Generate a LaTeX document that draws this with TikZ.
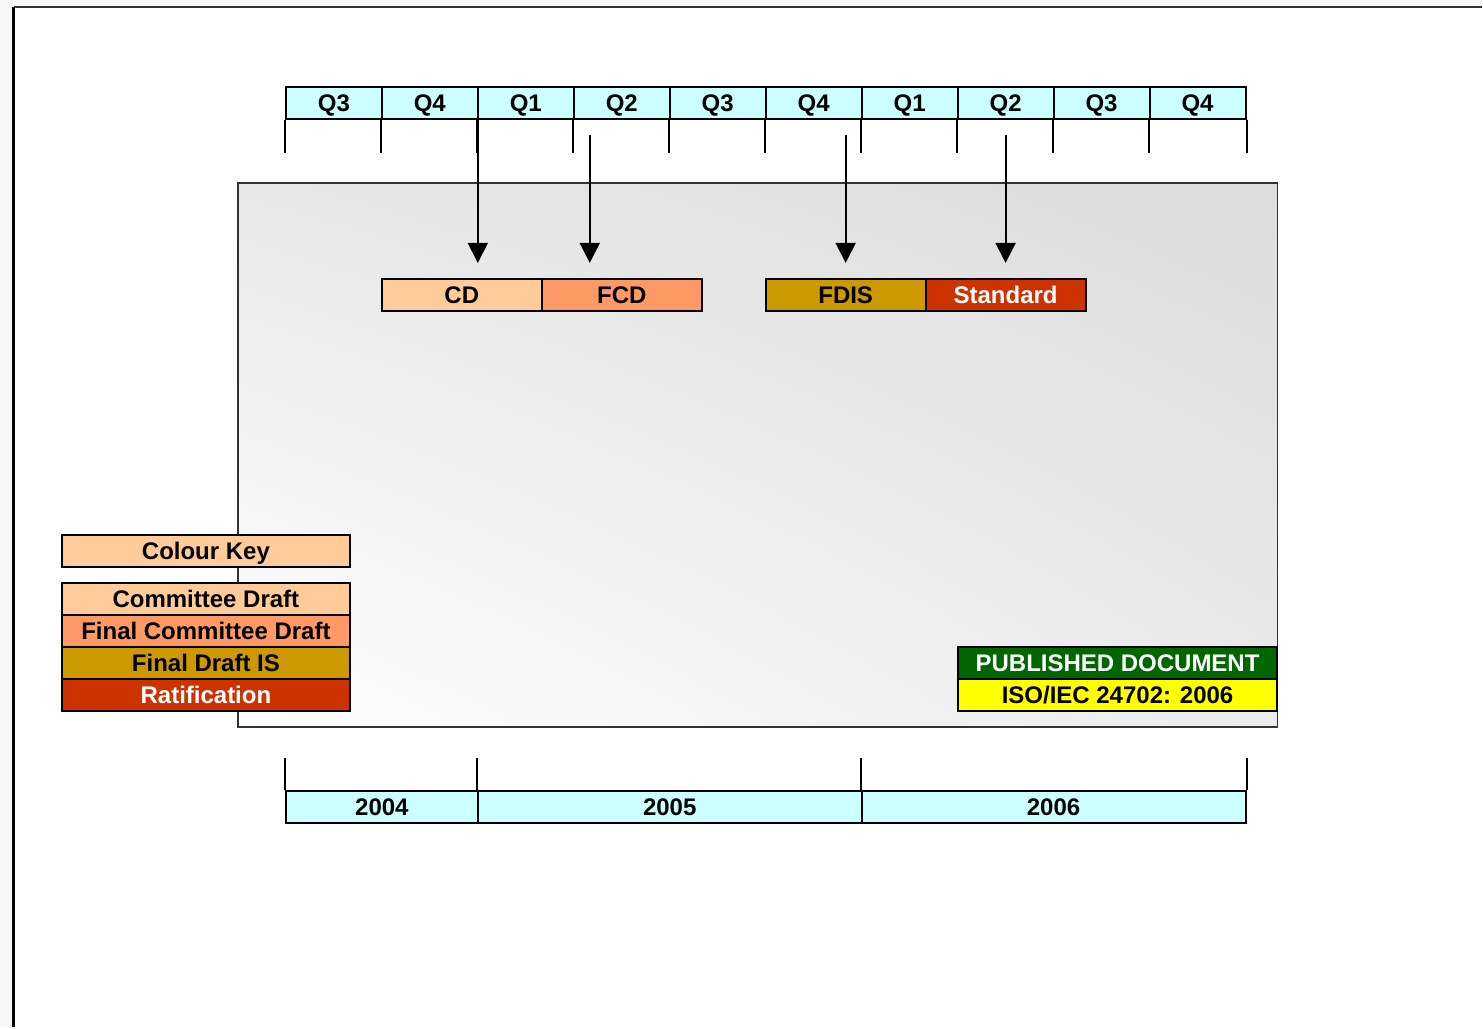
\documentclass[tikz,border=0pt]{standalone}
\usepackage{fontspec}
\setmainfont{Liberation Sans}
\usetikzlibrary{arrows.meta,shadings}
\definecolor{cyanc}{HTML}{CCFFFF}
\definecolor{cdc}{HTML}{FFCC99}
\definecolor{fcdc}{HTML}{FF9966}
\definecolor{fdisc}{HTML}{CC9900}
\definecolor{stdc}{HTML}{CC3300}
\definecolor{greenc}{HTML}{006600}
\definecolor{yellowc}{HTML}{FFFF00}
\definecolor{pagebg}{HTML}{F7F7F7}
\definecolor{panelg}{HTML}{DCDCDC}
\begin{document}
\begin{tikzpicture}[x=1pt,y=-1pt,
  lbl/.style={font=\fontsize{24}{28}\selectfont\bfseries},
  cell/.style={draw=black, line width=2pt, inner sep=0pt, minimum height=32pt, text depth=0pt, text height=18pt, lbl},
  qcell/.style={cell, fill=cyanc, minimum width=96pt},
  bar/.style={cell, minimum width=160pt},
  keycell/.style={cell, minimum width=288pt},
  pubcell/.style={cell, minimum width=320pt},
  tick/.style={line width=2pt},
  arr/.style={line width=1.8pt, -{Triangle[width=20pt,length=20pt]}}]
% background and page
\fill[pagebg] (0,0) rectangle (1483,1027);
\fill[white] (14,7) rectangle (1483,1027);
\draw[line width=1.2pt, black!80] (1483,7) -- (14,7);
\draw[line width=3pt] (14,7) -- (14,1027);
\useasboundingbox (0,0) rectangle (1483,1027);
% gray panel
\shade[lower left=white, upper right=panelg, upper left=black!9, lower right=black!8] (238,183) rectangle (1278,727);
\draw[line width=1.6pt, black!80] (238,183) rectangle (1278,727);
% quarter header
\foreach \q [count=\i from 0] in {Q3,Q4,Q1,Q2,Q3,Q4,Q1,Q2,Q3,Q4} {
  \node[qcell] (q\i) at (334+96*\i,103) {\q};
  \draw[tick] (q\i.south west) -- ++(0,33);
}
\draw[tick] (q9.south east) -- ++(0,33);
% milestone bars
\node[bar, fill=cdc] (cd) at (462,295) {CD};
\node[bar, fill=fcdc] (fcd) at (622,295) {FCD};
\node[bar, fill=fdisc] (fdis) at (846,295) {FDIS};
\node[bar, fill=stdc, text=white] (std) at (1006,295) {Standard};
% arrows
\coordinate (a1s) at (478,119);
\coordinate (a2s) at (590,135);
\coordinate (a3s) at (846,135);
\coordinate (a4s) at (1006,135);
\draw[arr] (a1s) -- (478,263);
\draw[arr] (a2s) -- (590,263);
\draw[arr] (a3s) -- (846,263);
\draw[arr] (a4s) -- (1006,263);
% colour key
\node[keycell, fill=cdc] (key) at (206,551) {Colour Key};
\node[keycell, fill=cdc] (k1) at (206,599) {Committee Draft};
\node[keycell, fill=fcdc] (k2) at (206,631) {Final Committee Draft};
\node[keycell, fill=fdisc] (k3) at (206,663) {Final Draft IS};
\node[keycell, fill=stdc, text=white] (k4) at (206,695) {Ratification};
% published document
\node[pubcell, fill=greenc, text=white] (pub) at (1118,663) {PUBLISHED DOCUMENT};
\node[pubcell, fill=yellowc] (iso) at (1118,695) {ISO/IEC 24702: 2006};
% years
\node[cell, fill=cyanc, minimum width=192pt] (y4) at (382,807) {2004};
\node[cell, fill=cyanc, minimum width=384pt] (y5) at (670,807) {2005};
\node[cell, fill=cyanc, minimum width=384pt] (y6) at (1054,807) {2006};
\draw[tick] (y4.north west) -- ++(0,-32);
\draw[tick] (y5.north west) -- ++(0,-32);
\draw[tick] (y6.north west) -- ++(0,-32);
\draw[tick] (y6.north east) -- ++(0,-32);
\end{tikzpicture}
\end{document}
